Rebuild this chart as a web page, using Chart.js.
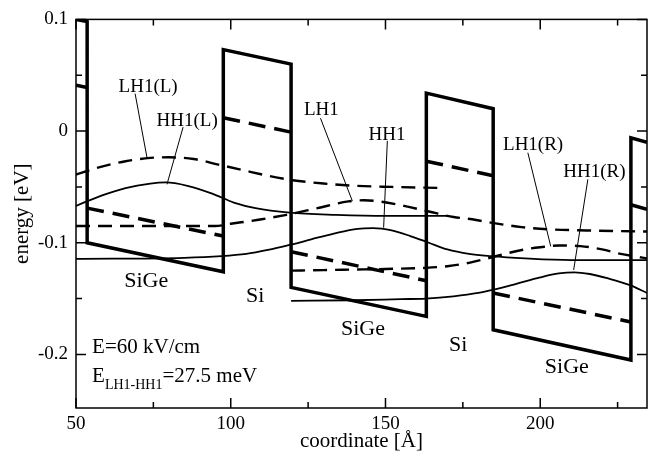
<!DOCTYPE html>
<html>
<head>
<meta charset="utf-8">
<script src="https://cdn.jsdelivr.net/npm/chart.js@4.4.1/dist/chart.umd.min.js"></script>
<style>
  body { margin: 0; background: #fff; }
  #wrap { width: 653px; height: 457px; }
</style>
</head>
<body>
<div id="wrap"><canvas id="bands"></canvas></div>
<script>
// heavy-hole band edge (thick solid)
const hhEdgeX = [50, 53.6, 53.6, 97.6, 97.6, 119.5, 119.5, 163.2, 163.2, 184.8, 184.8, 229.3, 229.3, 234.5];
const hhEdgeY = [0.1, 0.098, -0.1, -0.126, 0.073, 0.060, -0.14, -0.166, 0.034, 0.020, -0.178, -0.205, -0.006, -0.010];

// light-hole band edge (thick dashed), null = gap between layers
const lhEdgeX = [50, 53.6, 53.6, 53.6, 97.6, 97.6, 97.6, 119.5, 119.5, 119.5, 163.2, 163.2, 163.2, 184.8, 184.8, 184.8, 229.3, 229.3, 229.3, 234.5];
const lhEdgeY = [0.041, 0.039, null, -0.069, -0.094, null, 0.012, -0.001, null, -0.108, -0.134, null, -0.027, -0.040, null, -0.145, -0.171, null, -0.066, -0.070];

// wavefunctions
const lh1LX = [50, 58, 66, 74, 80, 88, 96, 104, 112, 120, 130, 140, 152, 169];
const lh1LY = [-0.039, -0.032, -0.027, -0.024, -0.0235, -0.025, -0.030, -0.035, -0.040, -0.044, -0.047, -0.049, -0.050, -0.051];

const hh1LX = [50, 58, 66, 74, 79, 86, 94, 101, 108, 119, 134, 150, 170];
const hh1LY = [-0.067, -0.058, -0.051, -0.047, -0.046, -0.049, -0.056, -0.064, -0.069, -0.073, -0.075, -0.076, -0.076];

const lh1X = [50, 70, 90, 95, 100, 110, 118, 128, 138, 143, 148, 156, 164, 172, 178, 184, 194, 203, 215, 234.5];
const lh1Y = [-0.085, -0.085, -0.085, -0.085, -0.083, -0.079, -0.075, -0.069, -0.063, -0.062, -0.063, -0.067, -0.072, -0.077, -0.079, -0.082, -0.086, -0.088, -0.089, -0.090];

const hh1X = [50, 85, 97, 105, 112, 119, 126, 133, 141, 146, 152, 158, 164, 170, 177, 184, 195, 210, 234.5];
const hh1Y = [-0.1145, -0.1135, -0.112, -0.110, -0.1065, -0.102, -0.097, -0.092, -0.0875, -0.087, -0.089, -0.094, -0.100, -0.106, -0.110, -0.112, -0.114, -0.1155, -0.1155];

const lh1RX = [119.5, 130, 140, 150, 163, 170, 177, 183, 190, 196, 200, 206, 213, 220, 226, 230, 234.5];
const lh1RY = [-0.125, -0.1245, -0.124, -0.1235, -0.1225, -0.121, -0.118, -0.114, -0.109, -0.1055, -0.104, -0.1025, -0.103, -0.106, -0.110, -0.112, -0.114];

const hh1RX = [119.5, 140, 155, 163, 172, 180, 185, 192, 200, 206, 211, 216, 222, 229, 234.5];
const hh1RY = [-0.152, -0.1515, -0.1505, -0.150, -0.148, -0.145, -0.142, -0.137, -0.131, -0.1275, -0.1265, -0.128, -0.132, -0.138, -0.145];

// axis ticks
const xMajor = [50, 100, 150, 200];
const xMinor = [75, 125, 175, 225];
const yMajor = [-0.2, -0.1, 0, 0.1];
const yMinor = [-0.15, -0.05, 0.05];

// label leaders: [x0, y0, x1, y1]
const leaders = [
  [69.1, 0.0335, 73.0, -0.0247],
  [84.6, 0.0035, 79.4, -0.0477],
  [129.0, 0.0115, 139.3, -0.0627],
  [150.6, -0.0088, 149.4, -0.0865],
  [196.0, -0.0194, 203.4, -0.1033],
  [215.4, -0.0432, 210.8, -0.1244]
];

const stateLabels = [
  { text: "LH1(L)", x: 73.3, y: 0.0353 },
  { text: "HH1(L)", x: 85.9, y: 0.0044 },
  { text: "LH1", x: 129.3, y: 0.0141 },
  { text: "HH1", x: 150.5, y: -0.0079 },
  { text: "LH1(R)", x: 197.7, y: -0.0168 },
  { text: "HH1(R)", x: 217.5, y: -0.0415 }
];
const layerLabels = [
  { text: "SiGe", x: 72.7, y: -0.1394 },
  { text: "Si", x: 107.9, y: -0.1527 },
  { text: "SiGe", x: 142.7, y: -0.1827 },
  { text: "Si", x: 173.5, y: -0.1968 },
  { text: "SiGe", x: 208.6, y: -0.2171 }
];

const pts = (xs, ys) => xs.map((x, i) => ({ x: x, y: ys[i] }));

const serif = '"Liberation Serif", "Times New Roman", serif';
Chart.defaults.font.family = serif;
Chart.defaults.color = "#000";

const solidWave = (xs, ys) => ({
  data: pts(xs, ys), borderColor: "#000", borderWidth: 1.8,
  pointRadius: 0, cubicInterpolationMode: "monotone", fill: false
});
const dashWave = (xs, ys) => ({
  data: pts(xs, ys), borderColor: "#000", borderWidth: 2.4, borderDash: [14, 8],
  pointRadius: 0, cubicInterpolationMode: "monotone", fill: false
});

const datasets = [
  { data: pts(hhEdgeX, hhEdgeY), borderColor: "#000", borderWidth: 3.5, pointRadius: 0, tension: 0, borderJoinStyle: "miter" },
  { data: pts(lhEdgeX, lhEdgeY), borderColor: "#000", borderWidth: 3.5, borderDash: [17, 9], pointRadius: 0, tension: 0, spanGaps: false },
  dashWave(lh1LX, lh1LY),
  solidWave(hh1LX, hh1LY),
  dashWave(lh1X, lh1Y),
  solidWave(hh1X, hh1Y),
  dashWave(lh1RX, lh1RY),
  solidWave(hh1RX, hh1RY)
];
leaders.forEach(l => {
  datasets.push({
    data: [{ x: l[0], y: l[1] }, { x: l[2], y: l[3] }],
    borderColor: "#000", borderWidth: 1, pointRadius: 0, tension: 0
  });
});

// frame, inward ticks and text annotations
const decorations = {
  id: "decorations",
  afterDatasetsDraw(chart) {
    const { ctx, chartArea: a, scales: { x, y } } = chart;
    ctx.save();
    ctx.strokeStyle = "#000";
    ctx.lineWidth = 1.5;
    ctx.strokeRect(a.left, a.top, a.right - a.left, a.bottom - a.top);
    ctx.beginPath();
    const tickX = (vals, len) => vals.forEach(v => {
      const px = x.getPixelForValue(v);
      ctx.moveTo(px, a.bottom); ctx.lineTo(px, a.bottom - len);
      ctx.moveTo(px, a.top); ctx.lineTo(px, a.top + len);
    });
    const tickY = (vals, len) => vals.forEach(v => {
      const py = y.getPixelForValue(v);
      ctx.moveTo(a.left, py); ctx.lineTo(a.left + len, py);
      ctx.moveTo(a.right, py); ctx.lineTo(a.right - len, py);
    });
    tickX(xMajor, 10); tickX(xMinor, 6);
    tickY(yMajor, 10); tickY(yMinor, 6);
    ctx.stroke();

    ctx.fillStyle = "#000";
    ctx.textBaseline = "alphabetic";
    ctx.textAlign = "center";
    ctx.font = "19px " + serif;
    stateLabels.forEach(l => ctx.fillText(l.text, x.getPixelForValue(l.x), y.getPixelForValue(l.y)));
    ctx.font = "22px " + serif;
    layerLabels.forEach(l => ctx.fillText(l.text, x.getPixelForValue(l.x), y.getPixelForValue(l.y)));

    ctx.font = "21px " + serif;
    ctx.textAlign = "left";
    const x0 = x.getPixelForValue(55.2);
    ctx.fillText("E=60 kV/cm", x0, y.getPixelForValue(-0.1986));
    const b = y.getPixelForValue(-0.225);
    ctx.fillText("E", x0, b);
    let cx = x0 + ctx.measureText("E").width;
    ctx.font = "14px " + serif;
    ctx.fillText("LH1-HH1", cx, b + 7);
    cx += ctx.measureText("LH1-HH1").width;
    ctx.font = "21px " + serif;
    ctx.fillText("=27.5 meV", cx, b);
    ctx.restore();
  }
};

new Chart(document.getElementById("bands"), {
  type: "line",
  data: { datasets: datasets },
  options: {
    responsive: true,
    maintainAspectRatio: false,
    animation: false,
    layout: { padding: { left: 0, right: 6, top: 12, bottom: 0 } },
    plugins: { legend: { display: false }, tooltip: { enabled: false } },
    scales: {
      x: {
        type: "linear", min: 50, max: 234.5,
        afterBuildTicks: s => { s.ticks = xMajor.map(v => ({ value: v })); },
        afterFit: s => { s.height = 49; },
        grid: { display: false, drawTicks: false },
        border: { display: false },
        ticks: { padding: 5, maxRotation: 0, font: { size: 19 }, callback: v => String(v) },
        title: { display: true, text: "coordinate [Å]", font: { size: 21 }, padding: { top: 0, bottom: 3 } }
      },
      y: {
        type: "linear", min: -0.248, max: 0.1,
        afterBuildTicks: s => { s.ticks = yMajor.map(v => ({ value: v })); },
        afterFit: s => { s.width = 76; },
        grid: { display: false, drawTicks: false },
        border: { display: false },
        ticks: { padding: 8, font: { size: 19 }, callback: v => (Math.abs(v) < 1e-9 ? "0" : v.toFixed(1)) },
        title: { display: true, text: "energy [eV]", font: { size: 21 }, padding: { top: 10, bottom: 0 } }
      }
    }
  },
  plugins: [decorations]
});
</script>
</body>
</html>
